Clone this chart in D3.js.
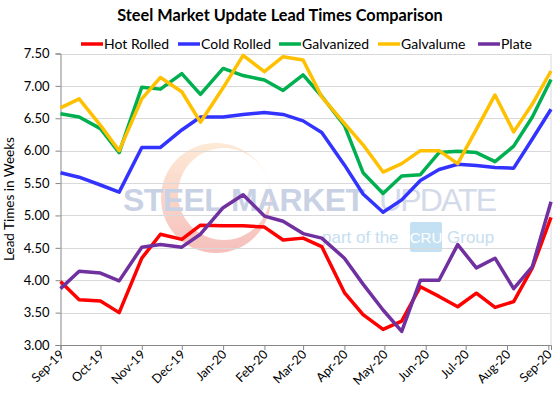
<!DOCTYPE html>
<html>
<head>
<meta charset="utf-8">
<script src="https://cdn.jsdelivr.net/npm/d3@7"></script>
<style>
  body { margin: 0; background: #fff; }
  svg text { font-family: Lato, "Open Sans", sans-serif; }
</style>
</head>
<body>
<div id="chart_box"></div>
<script>
// survey dates (roughly every two weeks)
var dates = ["2019-09-01","2019-09-15","2019-10-01","2019-10-15","2019-11-01","2019-11-15",
  "2019-12-01","2019-12-15","2020-01-01","2020-01-16","2020-02-01","2020-02-15",
  "2020-03-01","2020-03-15","2020-04-01","2020-04-15","2020-04-30","2020-05-14",
  "2020-05-28","2020-06-11","2020-06-25","2020-07-09","2020-07-23","2020-08-06",
  "2020-08-20","2020-09-03"];

var hotRolled = [3.98, 3.70, 3.68, 3.50, 4.34, 4.71, 4.63, 4.85, 4.84, 4.84, 4.82, 4.62, 4.65,
  4.52, 3.81, 3.47, 3.24, 3.37, 3.90, 3.75, 3.59, 3.80, 3.58, 3.67, 4.19, 4.97];
var coldRolled = [5.66, 5.59, 5.47, 5.36, 6.05, 6.05, 6.32, 6.52, 6.52, 6.56, 6.59, 6.56, 6.46,
  6.28, 5.78, 5.33, 5.05, 5.24, 5.54, 5.71, 5.79, 5.77, 5.74, 5.73, 6.18, 6.64];
var galvanized = [6.57, 6.52, 6.34, 5.97, 6.98, 6.95, 7.19, 6.87, 7.27, 7.16, 7.09, 6.93, 7.17,
  6.84, 6.39, 5.66, 5.34, 5.61, 5.63, 5.97, 5.99, 5.97, 5.83, 6.07, 6.52, 7.10];
var galvalume = [6.66, 6.80, 6.39, 6.00, 6.80, 7.13, 6.91, 6.44, 6.97, 7.47, 7.22, 7.45, 7.40,
  6.83, 6.42, 6.09, 5.67, 5.80, 6.00, 6.00, 5.80, 6.33, 6.86, 6.29, 6.72, 7.23];
var plate = [3.87, 4.14, 4.11, 3.99, 4.51, 4.55, 4.51, 4.71, 5.12, 5.32, 4.99, 4.91, 4.72,
  4.65, 4.34, 3.94, 3.54, 3.21, 4.00, 4.00, 4.55, 4.19, 4.34, 3.87, 4.21, 5.21];

var seriesNames = ["Hot Rolled", "Cold Rolled", "Galvanized", "Galvalume", "Plate"];
var seriesColors = ["#ff0000", "#3333ff", "#00b050", "#ffc000", "#7030a0"];
var yTicks = [3.0, 3.5, 4.0, 4.5, 5.0, 5.5, 6.0, 6.5, 7.0, 7.5];

var width = 560, height = 397;
var margin = { top: 53.5, right: 9, bottom: 52, left: 60.5 };

var parse = d3.timeParse("%Y-%m-%d");
var days = dates.map(parse);
var allSeries = [hotRolled, coldRolled, galvanized, galvalume, plate];

var svg = d3.select("#chart_box").append("svg")
    .attr("width", width)
    .attr("height", height);

var x = d3.scaleTime()
    .domain([parse("2019-09-01"), parse("2020-09-03")])
    .range([margin.left, width - margin.right]);
var y = d3.scaleLinear()
    .domain([3, 7.5])
    .range([height - margin.bottom, margin.top]);

// watermark (logo behind the plot)
var wm = svg.append("g").attr("class", "watermark");
var grad = svg.append("defs").append("linearGradient")
    .attr("id", "arcGrad").attr("x1", 0).attr("y1", 0).attr("x2", 0).attr("y2", 1);
grad.append("stop").attr("offset", "0%").attr("stop-color", "#fde3c8");
grad.append("stop").attr("offset", "100%").attr("stop-color", "#f2aaa6");
var cx = 216, cy = 198, r1 = 55, r2 = 46;
wm.append("path")
    .attr("d", "M" + (cx - r1) + "," + cy + "a" + r1 + "," + r1 + " 0 1,0 " + (2 * r1) + ",0"
      + "a" + r1 + "," + r1 + " 0 1,0 " + (-2 * r1) + ",0Z"
      + "M" + (cx + 8 - r2) + "," + (cy - 4) + "a" + r2 + "," + r2 + " 0 1,0 " + (2 * r2) + ",0"
      + "a" + r2 + "," + r2 + " 0 1,0 " + (-2 * r2) + ",0Z")
    .attr("fill-rule", "evenodd")
    .attr("fill", "url(#arcGrad)")
    .attr("opacity", 0.75);
wm.append("text")
    .attr("x", 123).attr("y", 211)
    .attr("textLength", 242)
    .style("font-family", "'Liberation Sans', Arial, sans-serif")
    .style("font-weight", "bold").style("font-size", "32px")
    .style("fill", "#c9d2e4")
    .text("STEEL MARKET");
wm.append("text")
    .attr("x", 379).attr("y", 211)
    .attr("textLength", 118)
    .style("font-family", "'Liberation Sans', Arial, sans-serif")
    .style("font-size", "32px")
    .style("fill", "#d3daea")
    .text("UPDATE");
wm.append("text")
    .attr("x", 322).attr("y", 243)
    .style("font-family", "'Liberation Sans', Arial, sans-serif")
    .style("font-size", "17px")
    .style("fill", "#c6def0")
    .text("part of the");
wm.append("rect")
    .attr("x", 410).attr("y", 222).attr("width", 32).attr("height", 30).attr("rx", 2)
    .attr("fill", "#c3e1f2");
wm.append("text")
    .attr("x", 426).attr("y", 243).attr("text-anchor", "middle")
    .style("font-family", "'Liberation Sans', Arial, sans-serif")
    .style("font-size", "15px").style("fill", "#fff")
    .text("CRU");
wm.append("text")
    .attr("x", 447).attr("y", 243)
    .style("font-family", "'Liberation Sans', Arial, sans-serif")
    .style("font-size", "17px")
    .style("fill", "#c6def0")
    .text("Group");

// gridlines
svg.append("g").selectAll("line")
    .data(yTicks.slice(1))
    .enter().append("line")
    .attr("x1", margin.left).attr("x2", width - margin.right)
    .attr("y1", function (d) { return Math.round(y(d)) + 0.5; })
    .attr("y2", function (d) { return Math.round(y(d)) + 0.5; })
    .style("stroke", "#d9d9d9");
// right border
svg.append("line")
    .attr("x1", width - margin.right).attr("x2", width - margin.right)
    .attr("y1", margin.top).attr("y2", height - margin.bottom)
    .style("stroke", "#d9d9d9");

// axes
var yAxis = svg.append("g")
    .attr("transform", "translate(" + margin.left + ",0)")
    .call(d3.axisLeft(y).tickValues(yTicks).tickFormat(d3.format(".2f")).tickSize(5).tickPadding(6));
yAxis.selectAll("text").style("font-size", "13px").style("fill", "#000");

var xAxis = svg.append("g")
    .attr("transform", "translate(0," + (height - margin.bottom) + ")")
    .call(d3.axisBottom(x).ticks(d3.timeMonth.every(1)).tickFormat(d3.timeFormat("%b-%y")).tickSize(5));
// rotated labels ending just right of each tick
xAxis.selectAll("text")
    .style("font-size", "12.5px").style("fill", "#000")
    .style("text-anchor", "end")
    .attr("x", -4.5).attr("y", 5.5)
    .attr("dx", 0).attr("dy", "0.35em")
    .attr("transform", "rotate(-45)");
svg.selectAll(".domain, .tick line").style("stroke", "#868686");

// lines
var line = d3.line()
    .x(function (d, i) { return x(days[i]); })
    .y(function (d) { return y(d); });

svg.append("g").selectAll("path")
    .data(allSeries)
    .enter().append("path")
    .attr("d", line)
    .style("fill", "none")
    .style("stroke", function (d, i) { return seriesColors[i]; })
    .style("stroke-width", 3.5)
    .style("stroke-linejoin", "round");

// title
svg.append("text")
    .attr("x", 280).attr("y", 21)
    .attr("text-anchor", "middle")
    .style("font-weight", "bold").style("font-size", "16.3px")
    .text("Steel Market Update Lead Times Comparison");

// legend
var legendX = [81, 178, 279, 378, 478];
var legend = svg.append("g").selectAll("g")
    .data(seriesNames)
    .enter().append("g")
    .attr("transform", function (d, i) { return "translate(" + legendX[i] + ",44)"; });
legend.append("line")
    .attr("x1", 0).attr("x2", 22)
    .style("stroke", function (d, i) { return seriesColors[i]; })
    .style("stroke-width", 3.5);
legend.append("text")
    .attr("x", 23).attr("dy", "0.35em")
    .style("font-size", "14px")
    .text(function (d) { return d; });

// y axis title
svg.append("text")
    .attr("transform", "translate(14,199) rotate(-90)")
    .attr("text-anchor", "middle")
    .style("font-size", "13.5px")
    .text("Lead Times in Weeks");
</script>
</body>
</html>
